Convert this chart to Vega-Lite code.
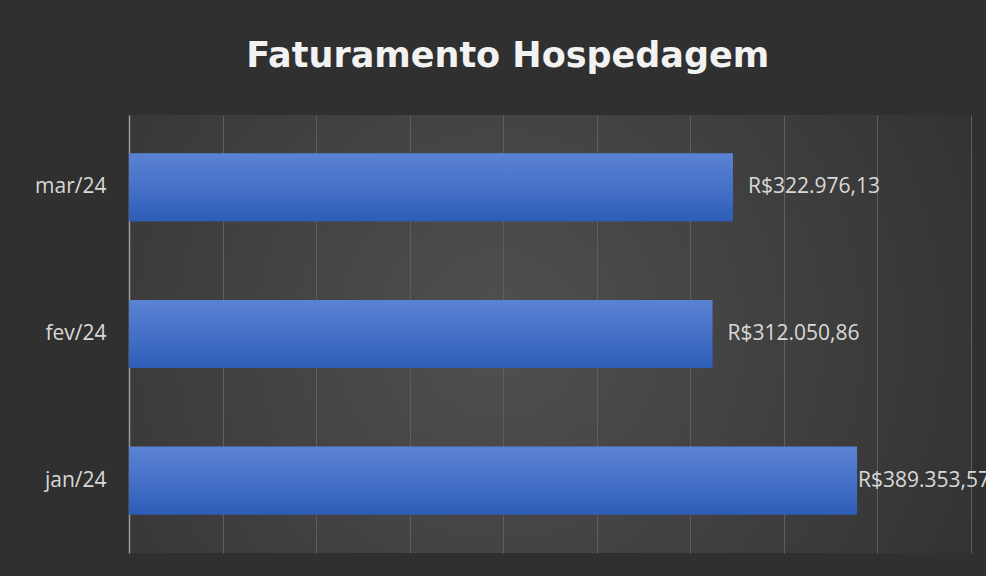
{
  "$schema": "https://vega.github.io/schema/vega-lite/v6.json",
  "width": 841.5,
  "height": 438,
  "autosize": {"type": "none"},
  "padding": {"left": 129, "top": 115, "right": 15.5, "bottom": 23},
  "background": "#303030",
  "title": {
    "text": "Faturamento Hospedagem",
    "font": "DejaVu Sans",
    "fontSize": 35,
    "fontWeight": "bold",
    "color": "#f2f2f2",
    "anchor": "middle",
    "dx": -42,
    "offset": 41
  },
  "config": {
    "view": {
      "stroke": null,
      "fill": {
        "gradient": "radial",
        "x1": 0.44, "y1": 0.5, "r1": 0,
        "x2": 0.44, "y2": 0.5, "r2": 0.8,
        "stops": [
          {"offset": 0, "color": "#505050"},
          {"offset": 1, "color": "#2a2a2a"}
        ]
      }
    },
    "locale": {
      "number": {
        "decimal": ",",
        "thousands": ".",
        "grouping": [3],
        "currency": ["R$", ""]
      }
    }
  },
  "data": {
    "values": [
      {"mes": "jan/24", "faturamento": 389353.57},
      {"mes": "fev/24", "faturamento": 312050.86},
      {"mes": "mar/24", "faturamento": 322976.13}
    ]
  },
  "encoding": {
    "y": {
      "field": "mes",
      "type": "nominal",
      "sort": ["mar/24", "fev/24", "jan/24"],
      "scale": {"paddingInner": 0.535, "paddingOuter": 0.26},
      "axis": {
        "title": null,
        "ticks": false,
        "labelFont": "Open Sans",
        "labelFontSize": 21,
        "labelColor": "#d9d9d9",
        "labelPadding": 23,
        "domainColor": "#9a9a9a",
        "domainWidth": 1.5,
        "grid": false
      }
    },
    "x": {
      "field": "faturamento",
      "type": "quantitative",
      "scale": {"domain": [0, 450000], "nice": false},
      "axis": {
        "title": null,
        "labels": false,
        "ticks": false,
        "domain": false,
        "grid": true,
        "gridColor": "#5e5e5e",
        "gridWidth": 1,
        "values": [0, 50000, 100000, 150000, 200000, 250000, 300000, 350000, 400000, 450000]
      }
    }
  },
  "layer": [
    {
      "mark": {
        "type": "bar",
        "color": {
          "gradient": "linear",
          "x1": 0, "y1": 0, "x2": 0, "y2": 1,
          "stops": [
            {"offset": 0, "color": "#5b83d3"},
            {"offset": 0.5, "color": "#4671c8"},
            {"offset": 1, "color": "#2d5db7"}
          ]
        }
      }
    },
    {
      "transform": [{"filter": "datum.mes !== 'jan/24'"}],
      "mark": {
        "type": "text",
        "align": "left",
        "baseline": "middle",
        "dx": 15,
        "font": "Open Sans",
        "fontSize": 21,
        "color": "#d9d9d9"
      },
      "encoding": {
        "text": {"field": "faturamento", "type": "quantitative", "format": "$,.2f"}
      }
    },
    {
      "transform": [{"filter": "datum.mes === 'jan/24'"}],
      "mark": {
        "type": "text",
        "align": "left",
        "baseline": "middle",
        "dx": 1,
        "font": "Open Sans",
        "fontSize": 21,
        "color": "#d9d9d9"
      },
      "encoding": {
        "text": {"field": "faturamento", "type": "quantitative", "format": "$,.2f"}
      }
    }
  ]
}
